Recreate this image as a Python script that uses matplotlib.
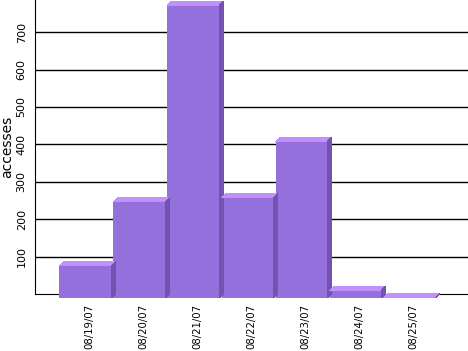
import matplotlib
matplotlib.use("Agg")
import matplotlib.pyplot as plt
from matplotlib.patches import Polygon

# daily accesses
days = ["08/19/07", "08/20/07", "08/21/07", "08/22/07", "08/23/07", "08/24/07", "08/25/07"]
accesses = [86, 257, 783, 268, 419, 21, 2]
yticks = [100, 200, 300, 400, 500, 600, 700]

front_col = "#9370db"
top_col = "#c090ff"
side_col = "#7352b0"

fig = plt.figure(figsize=(4.68, 3.51), dpi=100)
ax = fig.add_axes([35 / 468, 57 / 351, 433 / 468, 294 / 351])
ax.set_xlim(-1, 7)
ax.set_ylim(0, 786)

# gridlines behind the bars
for t in yticks:
    ax.axhline(t, color="black", linewidth=1.0, zorder=1)

# 3d-ish bars: front face shifted down-left by a few pixels
dx = 4 / 54.1
dy = 4 / 0.374
w = 0.96
x = list(range(len(days)))
ax.bar([i - dx for i in x], accesses, bottom=-dy, width=w, color=front_col,
       linewidth=0, zorder=3, clip_on=False, antialiased=False)
for i, v in zip(x, accesses):
    l = i - dx - w / 2
    r = i - dx + w / 2
    top = Polygon([(l, v - dy), (r, v - dy), (r + dx, v), (l + dx, v)],
                  closed=True, facecolor=top_col, edgecolor="none", zorder=3,
                  clip_on=False, antialiased=False)
    side = Polygon([(r, -dy), (r + dx, 0), (r + dx, v), (r, v - dy)],
                   closed=True, facecolor=side_col, edgecolor="none", zorder=3,
                   clip_on=False, antialiased=False)
    ax.add_patch(top)
    ax.add_patch(side)

ax.spines["top"].set_visible(False)
ax.spines["right"].set_visible(False)
ax.spines["left"].set_color("black")
ax.spines["bottom"].set_color("black")
ax.spines["bottom"].set_zorder(2)

ax.set_yticks(yticks)
ax.set_yticklabels([str(t) for t in yticks], rotation=90, va="center", fontsize=8)
ax.set_xticks(x)
ax.set_xticklabels(days, rotation=90, fontsize=7.3)
ax.tick_params(axis="y", length=0, pad=6)
ax.tick_params(axis="x", length=0, pad=7)
ax.set_ylabel("accesses", fontsize=10, labelpad=2)

fig.savefig("out.png", dpi=100)
